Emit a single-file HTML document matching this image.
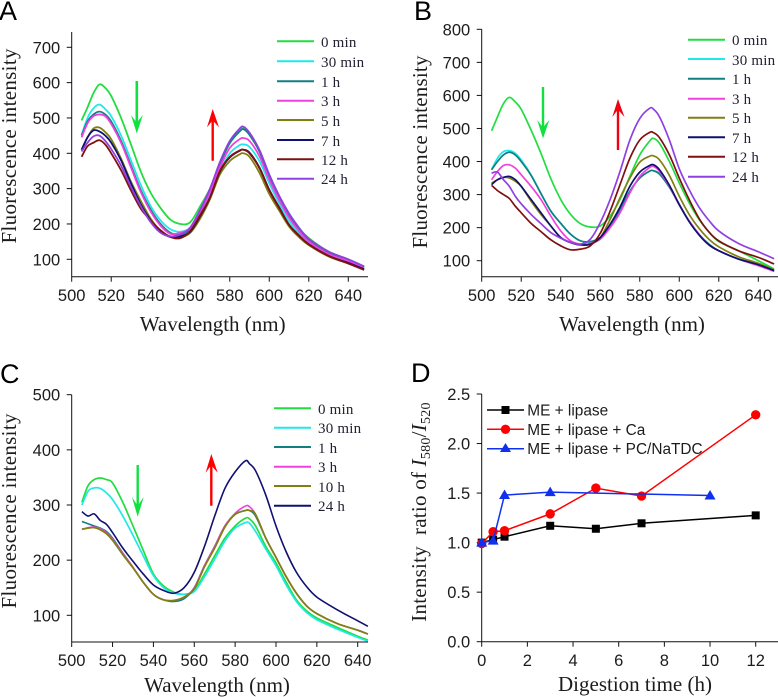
<!DOCTYPE html>
<html lang="en">
<head>
<meta charset="utf-8">
<title>Fluorescence spectra during digestion</title>
<style>
html,body{margin:0;padding:0;background:#fff;}
svg{display:block;}
text{fill:#1c1c1c;}
.sans{font-family:"Liberation Sans",sans-serif;}
.serif{font-family:"Liberation Serif",serif;}
.tick{font-family:"Liberation Sans",sans-serif;font-size:16.5px;}
.title{font-family:"Liberation Serif",serif;font-size:21px;}
.leg{font-family:"Liberation Serif",serif;font-size:15px;letter-spacing:.2px;fill:#223;}
.legd{font-family:"Liberation Sans",sans-serif;font-size:15.4px;}
.letter{font-family:"Liberation Sans",sans-serif;font-size:27px;fill:#000;}
</style>
</head>
<body>
<svg id="fig" xmlns="http://www.w3.org/2000/svg" width="778" height="697" viewBox="0 0 778 697">
<rect width="778" height="697" fill="#fff"/>
<text class="letter" x="-1" y="20">A</text>
<text class="letter" x="414" y="20">B</text>
<text class="letter" x="0" y="383">C</text>
<text class="letter" x="411" y="382">D</text>

<g id="panelA"></g>
<g id="panelB"></g>
<g id="panelC"></g>
<g id="panelD"></g>

<text class="title" x="212.7" y="331" text-anchor="middle">Wavelength (nm)</text>
<text class="title" transform="translate(16,146) rotate(-90)" text-anchor="middle" textLength="195">Fluorescence intensity</text>
<text class="title" x="632" y="331" text-anchor="middle">Wavelength (nm)</text>
<text class="title" transform="translate(427,152) rotate(-90)" text-anchor="middle" textLength="193">Fluorescence intensity</text>
<text class="title" x="217" y="692" text-anchor="middle">Wavelength (nm)</text>
<text class="title" transform="translate(16,511) rotate(-90)" text-anchor="middle" textLength="195">Fluorescence intensity</text>
<text class="title" x="635" y="691" text-anchor="middle">Digestion time (h)</text>
<text class="title" letter-spacing="0.25" transform="translate(426,512) rotate(-90)" text-anchor="middle">Intensity&#160;&#160;ratio of <tspan font-style="italic">I</tspan><tspan font-size="14" dy="4">580</tspan><tspan dy="-4">/</tspan><tspan font-style="italic">I</tspan><tspan font-size="14" dy="4">520</tspan></text>

<g>
<line x1="277" x2="314" y1="41.3" y2="41.3" stroke="#22dd40" stroke-width="2"/><text class="leg" x="321" y="47">0 min</text>
<line x1="277" x2="314" y1="61.3" y2="61.3" stroke="#22e8e8" stroke-width="2"/><text class="leg" x="321" y="67">30 min</text>
<line x1="277" x2="314" y1="81.3" y2="81.3" stroke="#108080" stroke-width="2"/><text class="leg" x="321" y="87">1 h</text>
<line x1="277" x2="314" y1="100.7" y2="100.7" stroke="#f040e0" stroke-width="2"/><text class="leg" x="321" y="106">3 h</text>
<line x1="277" x2="314" y1="120" y2="120" stroke="#808010" stroke-width="2"/><text class="leg" x="321" y="126">5 h</text>
<line x1="277" x2="314" y1="140" y2="140" stroke="#101070" stroke-width="2"/><text class="leg" x="321" y="146">7 h</text>
<line x1="277" x2="314" y1="159.3" y2="159.3" stroke="#801010" stroke-width="2"/><text class="leg" x="321" y="165">12 h</text>
<line x1="277" x2="314" y1="178.7" y2="178.7" stroke="#9040e0" stroke-width="2"/><text class="leg" x="321" y="184">24 h</text>
</g>

<g>
<line x1="688" x2="725" y1="39.7" y2="39.7" stroke="#22dd40" stroke-width="2"/><text class="leg" x="732" y="45">0 min</text>
<line x1="688" x2="725" y1="59" y2="59" stroke="#22e8e8" stroke-width="2"/><text class="leg" x="732" y="65">30 min</text>
<line x1="688" x2="725" y1="78.7" y2="78.7" stroke="#108080" stroke-width="2"/><text class="leg" x="732" y="84">1 h</text>
<line x1="688" x2="725" y1="98.7" y2="98.7" stroke="#f040e0" stroke-width="2"/><text class="leg" x="732" y="104">3 h</text>
<line x1="688" x2="725" y1="117.7" y2="117.7" stroke="#808010" stroke-width="2"/><text class="leg" x="732" y="123">5 h</text>
<line x1="688" x2="725" y1="137.3" y2="137.3" stroke="#101070" stroke-width="2"/><text class="leg" x="732" y="143">7 h</text>
<line x1="688" x2="725" y1="156.7" y2="156.7" stroke="#801010" stroke-width="2"/><text class="leg" x="732" y="162">12 h</text>
<line x1="688" x2="725" y1="176.7" y2="176.7" stroke="#9040e0" stroke-width="2"/><text class="leg" x="732" y="182">24 h</text>
</g>

<g>
<line x1="274" x2="311" y1="408.3" y2="408.3" stroke="#22dd40" stroke-width="2"/><text class="leg" x="318" y="414">0 min</text>
<line x1="274" x2="311" y1="427.7" y2="427.7" stroke="#22e8e8" stroke-width="2"/><text class="leg" x="318" y="433">30 min</text>
<line x1="274" x2="311" y1="447" y2="447" stroke="#108080" stroke-width="2"/><text class="leg" x="318" y="453">1 h</text>
<line x1="274" x2="311" y1="466.7" y2="466.7" stroke="#f040e0" stroke-width="2"/><text class="leg" x="318" y="472">3 h</text>
<line x1="274" x2="311" y1="486" y2="486" stroke="#808010" stroke-width="2"/><text class="leg" x="318" y="492">10 h</text>
<line x1="274" x2="311" y1="505.7" y2="505.7" stroke="#101070" stroke-width="2"/><text class="leg" x="318" y="511">24 h</text>
</g>

<g>
<path d="M135.500 81h2.600v40l4.700 -6 -6 18.500 -5.800 -18.500 4.500 6z" fill="#10e040"/>
<path d="M211.500 160.700h2.400v-39l5.100 5.500 -6.300 -18.200 -5.700 18.200 4.500 -5.500z" fill="#ff0000"/>
</g>
<g>
<path d="M541.800 87h2.400v39l5.100 -6 -6.300 18.500 -5.800 -18.500 4.600 6z" fill="#10e040"/>
<path d="M616.800 150h2.400v-39l5.300 6 -6.500 -18 -5.700 18 4.500 -6z" fill="#f00010"/>
</g>
<g>
<path d="M136.500 465h2.400v39l4.800 -7 -6 19.700 -5.800 -19.700 4.600 7z" fill="#10e040"/>
<path d="M210.100 505.700h2.400v-39l5.200 6 -6.400 -18.700 -5.700 18.700 4.500 -6z" fill="#ff0000"/>
</g>

<g>
<line x1="487" x2="524" y1="410" y2="410" stroke="#000" stroke-width="1.500"/>
<rect x="501.500" y="406" width="8" height="8" fill="#000"/>
<text class="legd" x="527.300" y="415.500">ME + lipase</text>
<line x1="487" x2="524" y1="429.300" y2="429.300" stroke="#f00" stroke-width="1.500"/>
<circle cx="505.500" cy="429.300" r="4.700" fill="#f00"/>
<text class="legd" x="527.300" y="434.800">ME + lipase + Ca</text>
<line x1="487" x2="524" y1="448.700" y2="448.700" stroke="#1030f0" stroke-width="1.500"/>
<path d="M505.500 443l5.500 9h-11z" fill="#1030f0"/>
<text class="legd" x="527.300" y="454.200">ME + lipase + PC/NaTDC</text>
</g>

<script>
// ---- Panel A data ----
const wavelengthsA = [505,508,511,514,517,520,525,530,535,540,545,550,555,560,565,570,575,580,585,587,590,595,600,605,610,615,620,630,640,648];
const a0min  = [493,530,570,595,585,562,500,425,348,288,245,212,200,205,250,300,370,428,462,470,458,408,335,275,225,188,160,122,100,80];
const a30min = [452,500,527,538,525,505,450,380,310,250,210,185,178,190,232,285,350,400,423,425,418,378,315,258,208,173,150,116,97,78];
const a1h    = [450,490,510,518,510,490,435,365,295,240,200,175,170,185,232,295,370,430,462,468,452,405,335,275,225,188,155,118,97,78];
const a3h    = [445,485,505,510,505,483,430,360,290,235,195,172,175,188,232,290,360,415,440,443,435,392,325,268,218,180,150,115,95,75];
const a5h    = [410,445,470,473,460,440,385,320,265,215,180,165,163,175,215,270,340,378,397,400,390,345,285,238,193,163,140,108,88,71];
const a7h    = [410,445,465,462,450,430,380,315,255,210,178,163,165,178,222,275,348,388,407,410,402,360,297,247,198,168,143,110,90,72];
const a12h   = [390,420,430,437,425,400,352,295,243,210,182,163,160,180,225,275,350,390,408,410,400,358,295,245,197,167,142,110,88,70];
const a24h   = [405,430,448,450,435,412,365,305,250,205,175,165,170,190,240,300,375,435,470,475,458,410,340,280,230,190,158,122,100,80];

// ---- Panel B data ----
const wavelengthsB = [505,508,511,514,517,520,525,530,535,540,545,550,555,560,565,570,575,580,585,587,590,595,600,605,610,615,620,630,640,648];
const b0min  = [493,535,575,594,580,558,495,425,348,285,240,212,202,205,235,285,355,420,462,470,455,400,335,275,225,187,158,130,100,75];
const b30min = [375,410,430,433,425,405,360,303,250,213,180,160,157,170,205,255,310,350,371,372,362,322,270,220,180,150,130,105,88,68];
const b1h    = [375,400,420,428,420,400,358,303,250,213,180,160,158,170,205,255,310,350,371,372,362,322,270,220,180,150,130,105,88,68];
const b3h    = [345,370,388,390,380,360,325,285,235,190,160,150,152,165,200,245,305,355,382,385,370,325,268,220,180,148,130,105,85,68];
const b5h    = [335,345,352,350,340,325,280,240,205,170,155,148,150,170,225,290,350,398,416,417,405,358,295,240,198,165,142,112,92,72];
const b7h    = [330,345,352,355,345,325,285,245,205,170,155,148,150,170,210,262,325,368,388,390,375,328,270,218,178,148,130,105,88,70];
const b12h   = [328,312,300,288,265,245,213,188,163,145,133,135,145,183,250,330,410,465,488,487,472,420,350,285,228,187,160,130,110,90];
const b24h   = [365,368,345,325,295,272,240,212,185,168,155,150,165,215,285,370,465,530,561,558,535,465,378,315,262,222,190,152,127,106];

// ---- Panel C data ----
const wavelengthsC = [505,508,511,514,517,520,525,530,535,540,545,550,555,560,565,570,575,580,585,587,590,595,600,605,610,615,620,630,640,645];
const c0min  = [305,335,346,349,346,340,305,262,218,175,153,142,138,145,175,208,240,262,276,275,262,225,195,160,128,108,95,78,62,55];
const c30min = [300,325,331,330,322,310,280,245,208,172,150,140,138,143,170,202,235,258,268,267,252,220,190,155,125,105,92,75,60,53];
const c1h    = [270,266,262,258,252,240,213,187,160,138,128,125,130,150,190,225,262,283,290,290,280,240,205,170,140,117,103,85,73,66];
const c3h    = [256,259,260,257,250,238,212,187,160,138,128,127,133,150,190,225,262,285,298,297,283,240,205,170,140,117,103,85,73,66];
const c10h   = [256,258,259,255,248,236,210,186,160,138,128,127,133,148,188,222,260,283,290,290,283,240,205,170,140,117,103,85,73,66];
const c24h   = [288,280,284,272,265,250,222,198,175,155,145,140,150,178,225,280,330,360,380,375,362,318,262,215,178,152,133,110,90,80];

// ---- Panel D data ----
const timesBlack = [0,0.5,1,3,5,7,12];
const ratioBlack = [1.0,1.03,1.06,1.17,1.14,1.195,1.275];
const timesRed = [0,0.5,1,3,5,7,12];
const ratioRed = [0.99,1.11,1.12,1.29,1.55,1.47,2.29];
const timesBlue = [0,0.5,1,3,10];
const ratioBlue = [1.0,1.02,1.48,1.51,1.475];

// ---- Tick labels ----
const xTicksSpectra = [500,520,540,560,580,600,620,640];
const yTicksA = [100,200,300,400,500,600,700];
const yTicksB = [100,200,300,400,500,600,700,800];
const yTicksC = [100,200,300,400,500];
const xTicksD = [0,2,4,6,8,10,12];
const yTicksD = ["0.0","0.5","1.0","1.5","2.0","2.5"];

const NS = 'http://www.w3.org/2000/svg';
function linearScale(d0, d1, r0, r1) {
  return function (v) { return r0 + (v - d0) * (r1 - r0) / (d1 - d0); };
}
function smoothPath(pts) {
  let d = 'M' + pts[0][0].toFixed(2) + ' ' + pts[0][1].toFixed(2);
  for (let i = 0; i < pts.length - 1; i++) {
    const p0 = pts[Math.max(i - 1, 0)], p1 = pts[i], p2 = pts[i + 1], p3 = pts[Math.min(i + 2, pts.length - 1)];
    const c1x = p1[0] + (p2[0] - p0[0]) / 6, c1y = p1[1] + (p2[1] - p0[1]) / 6;
    const c2x = p2[0] - (p3[0] - p1[0]) / 6, c2y = p2[1] - (p3[1] - p1[1]) / 6;
    d += 'C' + c1x.toFixed(2) + ' ' + c1y.toFixed(2) + ' ' + c2x.toFixed(2) + ' ' + c2y.toFixed(2) + ' ' + p2[0].toFixed(2) + ' ' + p2[1].toFixed(2);
  }
  return d;
}
function drawAxes(g, x, y, xTicks, yTicks, ox, oy, xEnd, yTop, xLabelY, xLabelDy) {
  const xAxis = document.createElementNS(NS, 'line');
  
  
  xAxis.setAttribute('x1', ox); xAxis.setAttribute('x2', xEnd);
  xAxis.setAttribute('y1', oy); xAxis.setAttribute('y2', oy);
  xAxis.setAttribute('stroke', '#111'); xAxis.setAttribute('stroke-width', '1');
  g.appendChild(xAxis);
  const yAxis = document.createElementNS(NS, 'line');
  
  
  yAxis.setAttribute('x1', ox); yAxis.setAttribute('x2', ox);
  yAxis.setAttribute('y1', yTop); yAxis.setAttribute('y2', oy);
  yAxis.setAttribute('stroke', '#111'); yAxis.setAttribute('stroke-width', '1');
  g.appendChild(yAxis);
  xTicks.forEach(function (t) {
    const m = document.createElementNS(NS, 'line');
    
    
    m.setAttribute('x1', x(t)); m.setAttribute('x2', x(t));
    m.setAttribute('y1', oy); m.setAttribute('y2', oy + 5);
    m.setAttribute('stroke', '#111');
    g.appendChild(m);
    const l = document.createElementNS(NS, 'text');
    
    
    l.setAttribute('class', 'tick');
    l.setAttribute('x', x(t) + xLabelDy); l.setAttribute('y', xLabelY);
    l.setAttribute('text-anchor', 'middle');
    l.textContent = t;
    g.appendChild(l);
  });
  yTicks.forEach(function (t) {
    const v = parseFloat(t);
    const m = document.createElementNS(NS, 'line');
    
    
    m.setAttribute('x1', ox - 5); m.setAttribute('x2', ox);
    m.setAttribute('y1', y(v)); m.setAttribute('y2', y(v));
    m.setAttribute('stroke', '#111');
    g.appendChild(m);
    const l = document.createElementNS(NS, 'text');
    
    
    l.setAttribute('class', 'tick');
    l.setAttribute('x', ox - 11.5); l.setAttribute('y', y(v) + 6);
    l.setAttribute('text-anchor', 'end');
    l.textContent = t;
    g.appendChild(l);
  });
}
function drawSpectrum(g, x, y, wl, vals, color, name, width) {
  const pts = wl.map(function (w, i) { return [x(w), y(vals[i])]; });
  const p = document.createElementNS(NS, 'path');
  
  
  p.setAttribute('d', smoothPath(pts));
  p.setAttribute('fill', 'none');
  p.setAttribute('stroke', color);
  p.setAttribute('stroke-width', width);
  g.appendChild(p);
}
const GREEN = '#22dd40', CYAN = '#22e8e8', TEAL = '#108080', MAGENTA = '#f040e0', OLIVE = '#808010', NAVY = '#101070', MAROON = '#801010', PURPLE = '#9040e0';

// Panel A
const xA = linearScale(500, 640, 71.7, 348.3);
const yA = linearScale(100, 700, 259.3, 47.3);
const gA = document.getElementById('panelA');
drawSpectrum(gA, xA, yA, wavelengthsA, a0min, GREEN, 'series-0-min', 1.8);
drawSpectrum(gA, xA, yA, wavelengthsA, a30min, CYAN, 'series-30-min', 1.8);
drawSpectrum(gA, xA, yA, wavelengthsA, a1h, TEAL, 'series-1-h', 1.8);
drawSpectrum(gA, xA, yA, wavelengthsA, a3h, MAGENTA, 'series-3-h', 1.8);
drawSpectrum(gA, xA, yA, wavelengthsA, a5h, OLIVE, 'series-5-h', 1.8);
drawSpectrum(gA, xA, yA, wavelengthsA, a7h, NAVY, 'series-7-h', 1.8);
drawSpectrum(gA, xA, yA, wavelengthsA, a12h, MAROON, 'series-12-h', 1.8);
drawSpectrum(gA, xA, yA, wavelengthsA, a24h, PURPLE, 'series-24-h', 1.8);
drawAxes(gA, xA, yA, xTicksSpectra, yTicksA, 71.7, 276.7, 368, 32, 301, 0);

// Panel B
const xB = linearScale(500, 640, 481.7, 758.3);
const yB = linearScale(100, 800, 260.7, 29.3);
const gB = document.getElementById('panelB');
drawSpectrum(gB, xB, yB, wavelengthsB, b0min, GREEN, 'series-0-min', 1.7);
drawSpectrum(gB, xB, yB, wavelengthsB, b30min, CYAN, 'series-30-min', 1.7);
drawSpectrum(gB, xB, yB, wavelengthsB, b1h, TEAL, 'series-1-h', 1.7);
drawSpectrum(gB, xB, yB, wavelengthsB, b3h, MAGENTA, 'series-3-h', 1.7);
drawSpectrum(gB, xB, yB, wavelengthsB, b5h, OLIVE, 'series-5-h', 1.7);
drawSpectrum(gB, xB, yB, wavelengthsB, b7h, NAVY, 'series-7-h', 1.7);
drawSpectrum(gB, xB, yB, wavelengthsB, b12h, MAROON, 'series-12-h', 1.7);
drawSpectrum(gB, xB, yB, wavelengthsB, b24h, PURPLE, 'series-24-h', 1.7);
drawAxes(gB, xB, yB, xTicksSpectra, yTicksB, 481.7, 276.7, 778, 29.3, 301, 0);

// Panel C
const xC = linearScale(500, 640, 71.7, 357.7);
const yC = linearScale(100, 500, 615.3, 394.7);
const gC = document.getElementById('panelC');
drawSpectrum(gC, xC, yC, wavelengthsC, c0min, GREEN, 'series-0-min', 1.7);
drawSpectrum(gC, xC, yC, wavelengthsC, c30min, CYAN, 'series-30-min', 1.7);
drawSpectrum(gC, xC, yC, wavelengthsC, c1h, TEAL, 'series-1-h', 1.6);
drawSpectrum(gC, xC, yC, wavelengthsC, c3h, MAGENTA, 'series-3-h', 1.6);
drawSpectrum(gC, xC, yC, wavelengthsC, c10h, OLIVE, 'series-10-h', 1.7);
drawSpectrum(gC, xC, yC, wavelengthsC, c24h, NAVY, 'series-24-h', 1.6);
drawAxes(gC, xC, yC, xTicksSpectra, yTicksC, 71.7, 642, 368, 394.7, 666, 0);

// Panel D
const xD = linearScale(0, 12, 481.7, 755.7);
const yD = linearScale(0, 2.5, 641.7, 394);
const gD = document.getElementById('panelD');
drawAxes(gD, xD, yD, xTicksD, yTicksD, 481.7, 641.7, 778, 394, 666, 0);

function drawLine(g, xs, ys, color, name) {
  const l = document.createElementNS(NS, 'polyline');
  
  
  l.setAttribute('points', xs.map(function (t, i) { return xD(t) + ',' + yD(ys[i]); }).join(' '));
  l.setAttribute('fill', 'none');
  l.setAttribute('stroke', color);
  l.setAttribute('stroke-width', '1.5');
  g.appendChild(l);
}
drawLine(gD, timesBlack, ratioBlack, '#000', 'series-me-lipase-line');
timesBlack.forEach(function (t, i) {
  const s = document.createElementNS(NS, 'rect');
  
  
  s.setAttribute('x', xD(t) - 4); s.setAttribute('y', yD(ratioBlack[i]) - 4);
  s.setAttribute('width', 8); s.setAttribute('height', 8);
  s.setAttribute('fill', '#000');
  gD.appendChild(s);
});
drawLine(gD, timesRed, ratioRed, '#f00', 'series-me-lipase-ca-line');
timesRed.forEach(function (t, i) {
  const c = document.createElementNS(NS, 'circle');
  
  
  c.setAttribute('cx', xD(t)); c.setAttribute('cy', yD(ratioRed[i]));
  c.setAttribute('r', 4.7);
  c.setAttribute('fill', '#f00');
  gD.appendChild(c);
});
drawLine(gD, timesBlue, ratioBlue, '#1030f0', 'series-me-lipase-pc-natdc-line');
timesBlue.forEach(function (t, i) {
  const cx = xD(t), cy = yD(ratioBlue[i]);
  const p = document.createElementNS(NS, 'path');
  
  
  p.setAttribute('d', 'M' + cx + ' ' + (cy - 5.5) + 'l5.500 9.500h-11z');
  p.setAttribute('fill', '#1030f0');
  gD.appendChild(p);
});
</script>
</svg>
</body>
</html>
